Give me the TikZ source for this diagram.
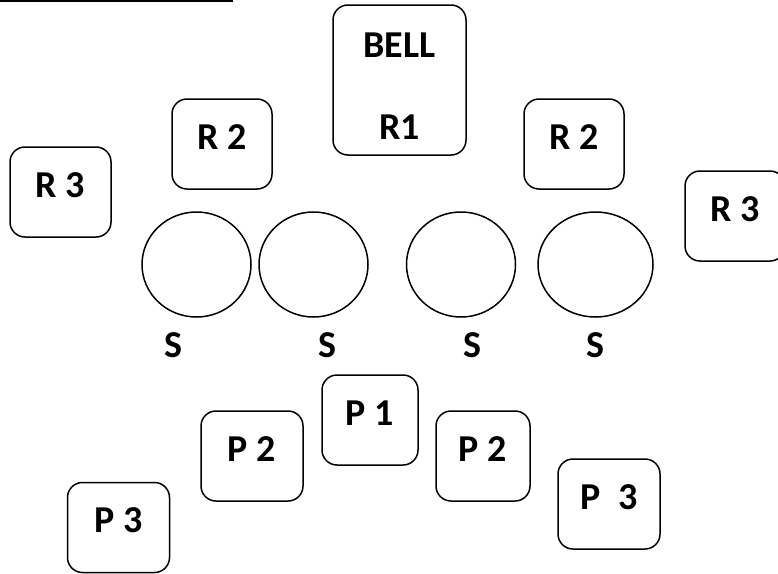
\documentclass[tikz,border=0pt]{standalone}
\usepackage{fontspec}
\setmainfont{Carlito}
\usetikzlibrary{shapes.geometric}

\begin{document}
\begin{tikzpicture}[x=1pt,y=-1pt,
  card/.style={draw=black, line width=1.5pt, rounded corners=15pt,
    minimum width=100pt, minimum height=90pt, text depth=14pt, inner sep=0pt,
    font=\fontsize{38}{45}\selectfont\bfseries},
  seat/.style={draw=black, line width=1.5pt, ellipse, inner sep=0pt,
    minimum width=109pt, minimum height=105pt},
  word/.style={inner sep=0pt, font=\fontsize{38}{45}\selectfont\bfseries}]
\clip (0,0) rectangle (778,573);
\draw[black, line width=2.2pt] (0,1) -- (233,1);
% the bell box
\node[card, minimum width=133pt, minimum height=150pt] (bell) at (399.5,80) {};
\node[word] (bellname) at (399.5,45) {BELL};
\node[word] (bellrank) at (399.5,127) {R1};
% upper cards
\node[card] (r2left) at (222,144) {R 2};
\node[card, minimum width=101pt] (r3left) at (60.5,192) {R 3};
\node[card] (r2right) at (574,144) {R 2};
\node[card] (r3right) at (735,216) {R 3};
% the four seats
\node[seat] (s1) at (196.5,264.5) {};
\node[seat] (s2) at (313.5,264.5) {};
\node[seat] (s3) at (461,264.5) {};
\node[seat, minimum width=115pt] (s4) at (595.5,264.5) {};
\node[word] (s1name) at (173,345) {S};
\node[word] (s2name) at (327,345) {S};
\node[word] (s3name) at (472,345) {S};
\node[word] (s4name) at (595,345) {S};
% lower cards
\node[card, minimum width=96pt] (p1) at (370,420) {P 1};
\node[card, minimum width=102pt] (p2left) at (252,456) {P 2};
\node[card, minimum width=94pt] (p2right) at (483,456) {P 2};
\node[card, minimum width=102pt] (p3left) at (118.5,527.5) {P 3};
\node[card, minimum width=102pt] (p3right) at (609,504) {P~~3};
\end{tikzpicture}
\end{document}
